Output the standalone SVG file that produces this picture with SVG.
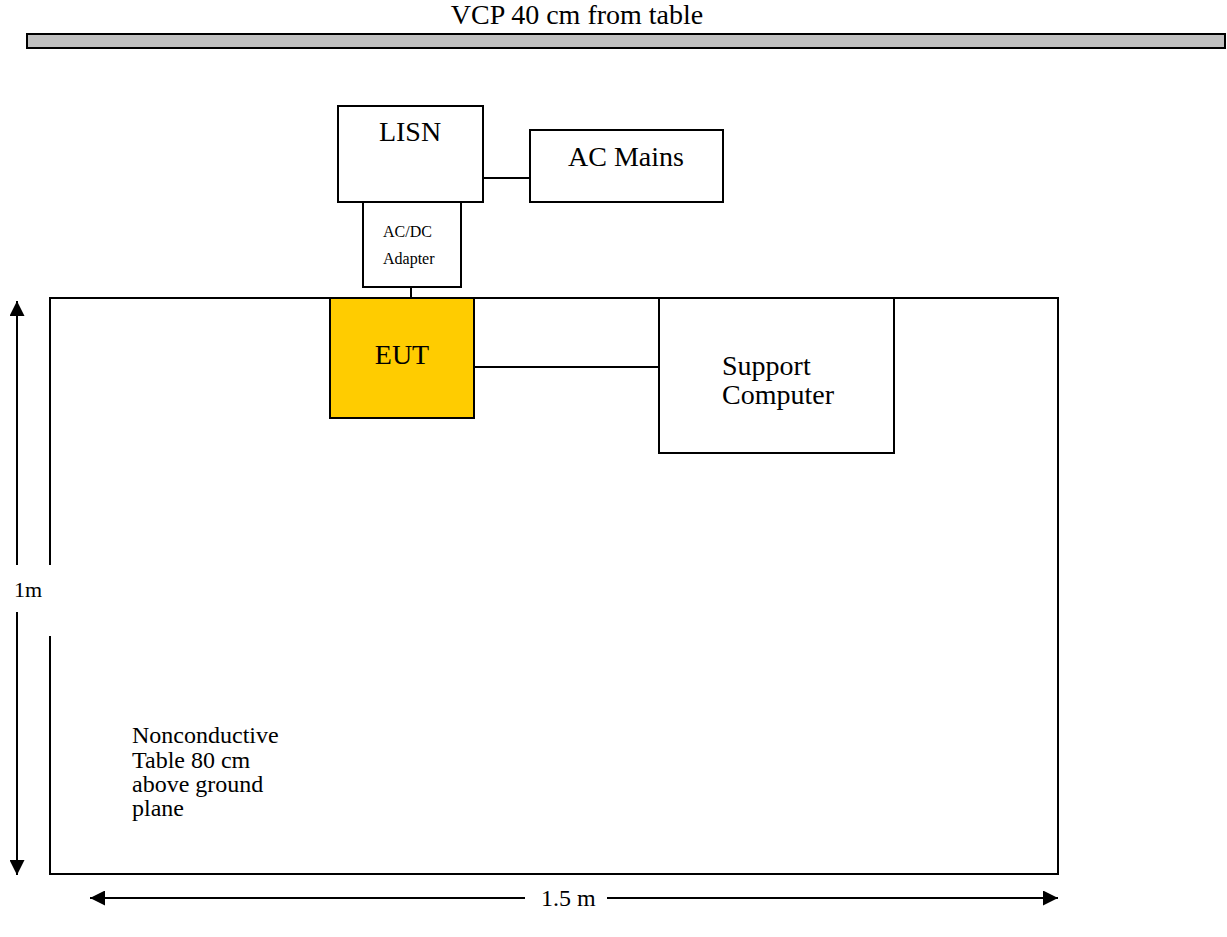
<svg xmlns="http://www.w3.org/2000/svg" width="1227" height="937" viewBox="0 0 1227 937">
<style>
.box{fill:#fff;stroke:#000;stroke-width:2}
.ln{stroke:#000;stroke-width:2;fill:none}
text{font-family:"Liberation Serif","Times New Roman",serif;fill:#000}
.big{font-size:28px}
.mid{font-size:24px}
.dim{font-size:22px}
.sm{font-size:16px}
</style>
<defs>
<marker id="ah" viewBox="0 0 10 10" refX="10" refY="5" markerWidth="16" markerHeight="15" markerUnits="userSpaceOnUse" orient="auto-start-reverse">
<path d="M0,0 L10,5 L0,10 z" fill="#000"/>
</marker>
</defs>
<g id="vcp">
<text x="577" y="24" text-anchor="middle" class="big">VCP 40 cm from table</text>
<rect x="27" y="34" width="1198" height="14" fill="#c0c0c0" stroke="#000" stroke-width="2"/>
</g>
<g id="table">
<path class="ln" d="M50,565 V298 H1058 V874 H50 V636"/>
<text class="mid"><tspan x="132" y="743">Nonconductive</tspan><tspan x="132" y="768">Table 80 cm</tspan><tspan x="132" y="792">above ground</tspan><tspan x="132" y="816">plane</tspan></text>
</g>
<g id="connectors">
<line class="ln" x1="483" y1="178" x2="530" y2="178"/>
<line class="ln" x1="411" y1="287" x2="411" y2="298"/>
<line class="ln" x1="474" y1="367" x2="659" y2="367"/>
</g>
<g id="lisn">
<rect class="box" x="338" y="106" width="145" height="96"/>
<text x="410" y="141" text-anchor="middle" class="big">LISN</text>
</g>
<g id="acmains">
<rect class="box" x="530" y="130" width="193" height="72"/>
<text x="626" y="166" text-anchor="middle" class="big">AC Mains</text>
</g>
<g id="adapter">
<rect class="box" x="363" y="202" width="98" height="85"/>
<text x="383" y="237" class="sm">AC/DC</text>
<text x="383" y="264" class="sm">Adapter</text>
</g>
<g id="eut">
<rect x="330" y="298" width="144" height="120" fill="#ffcc00" stroke="#000" stroke-width="2"/>
<text x="402" y="364" text-anchor="middle" class="big">EUT</text>
</g>
<g id="support">
<rect class="box" x="659" y="298" width="235" height="155"/>
<text class="big"><tspan x="722" y="375">Support</tspan><tspan x="722" y="404">Computer</tspan></text>
</g>
<g id="dim-1m">
<line class="ln" x1="17" y1="565" x2="17" y2="301" marker-end="url(#ah)"/>
<line class="ln" x1="17" y1="612" x2="17" y2="875" marker-end="url(#ah)"/>
<text x="14" y="597" class="dim">1m</text>
</g>
<g id="dim-15m">
<line class="ln" x1="525" y1="898" x2="90" y2="898" marker-end="url(#ah)"/>
<line class="ln" x1="607" y1="898" x2="1058" y2="898" marker-end="url(#ah)"/>
<text x="541" y="906" class="mid">1.5 m</text>
</g>
</svg>
